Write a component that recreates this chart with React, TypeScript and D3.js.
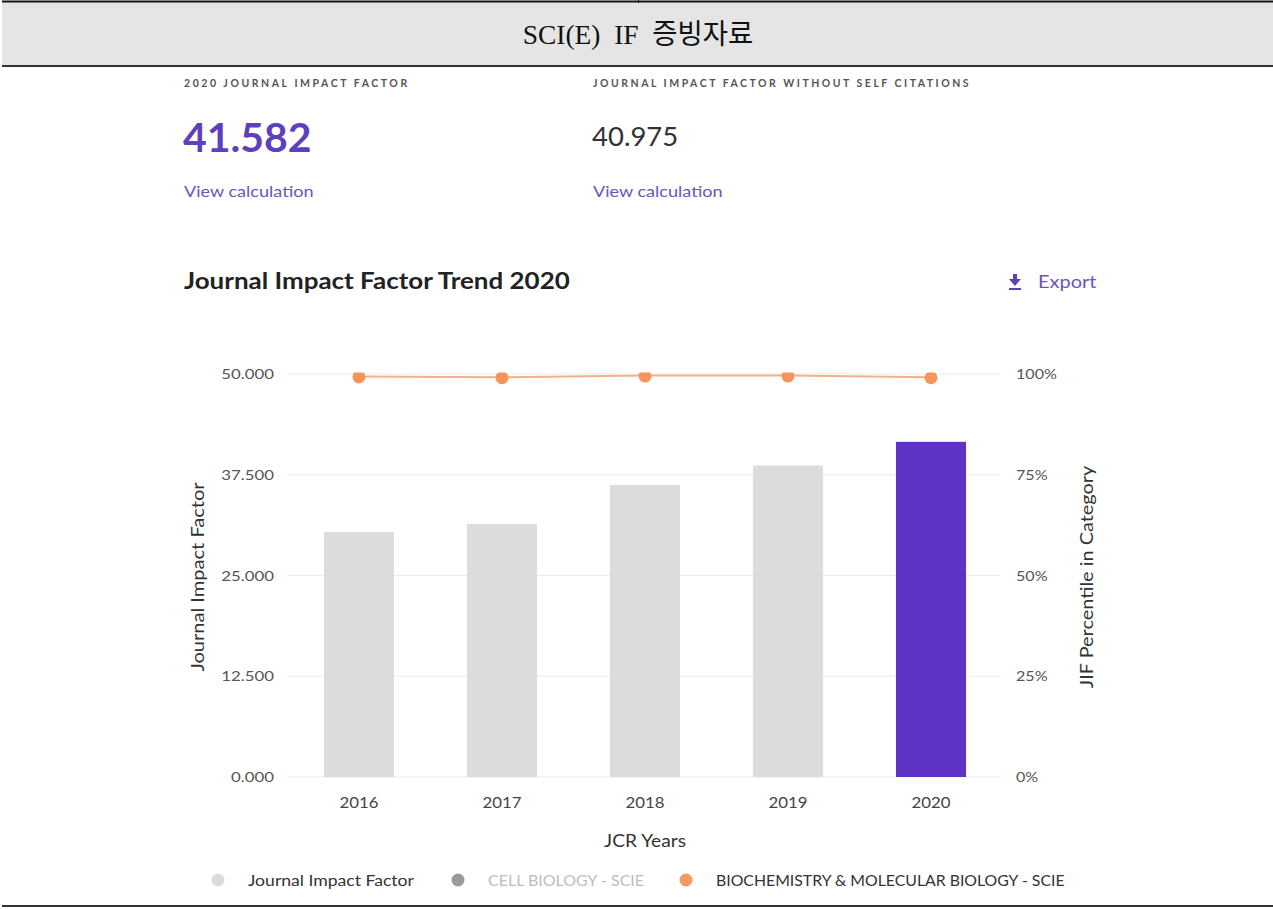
import React from "react";
import * as d3 from "d3";

const years = ["2016", "2017", "2018", "2019", "2020"];
const jifValues = [30.41, 31.398, 36.216, 38.637, 41.582];
const percentileValues = [99.4, 99.2, 99.6, 99.6, 99.2];
const leftTicks = [0, 12.5, 25, 37.5, 50];
const rightTicks = [0, 25, 50, 75, 100];
const legendItems = [
  { label: "Journal Impact Factor", dot: "#dcdcdc", text: "#333", sx: 1.1 },
  { label: "CELL BIOLOGY - SCIE", dot: "#9a9a9a", text: "#bdbdbd", sx: 1.0 },
  { label: "BIOCHEMISTRY & MOLECULAR BIOLOGY - SCIE", dot: "#f79a62", text: "#333", sx: 0.99 },
];

const W = 1273;
const H = 909;
const FONT = "Lato, 'Open Sans', sans-serif";

type STProps = {
  x: number;
  y: number;
  sx?: number;
  rotate?: number;
  anchor?: "start" | "middle" | "end";
  children: React.ReactNode;
  [k: string]: any;
};

function ST({ x, y, sx = 1, rotate = 0, anchor = "start", children, ...rest }: STProps) {
  return (
    <g transform={`translate(${x},${y}) rotate(${rotate}) scale(${sx},1)`}>
      <text x={0} y={0} textAnchor={anchor} {...rest}>
        {children}
      </text>
    </g>
  );
}

export default function App() {
  const plotLeft = 287.5;
  const plotRight = 1002.5;
  const plotTop = 374;
  const plotBottom = 777;

  const x = d3.scaleBand<string>().domain(years).range([plotLeft, plotRight]).paddingInner(0.51).paddingOuter(0.255);
  const yL = d3.scaleLinear().domain([0, 50]).range([plotBottom, plotTop]);
  const yR = d3.scaleLinear().domain([0, 100]).range([plotBottom, plotTop]);

  const cx = (i: number) => (x(years[i]) as number) + x.bandwidth() / 2;
  const line = d3
    .line<number>()
    .x((_, i) => cx(i))
    .y((d) => yR(d));

  const legendX = [218, 458, 686];

  return (
    <svg
      width={W}
      height={H}
      style={{ position: "absolute", left: 0, top: 0, background: "#fff" }}
      fontFamily={FONT}
    >
      <defs>
        <clipPath id="plotclip">
          <rect x={plotLeft - 20} y={plotTop - 1.5} width={plotRight - plotLeft + 40} height={plotBottom - plotTop + 10} />
        </clipPath>
      </defs>
      {/* header */}
      <rect x={2} y={2} width={W - 2} height={64} fill="#e5e5e5" />
      <line x1={2} x2={W} y1={1.5} y2={1.5} stroke="#111" strokeWidth={2} />
      <line x1={638.5} x2={638.5} y1={0} y2={3} stroke="#111" strokeWidth={1} />
      <line x1={2} x2={W} y1={66} y2={66} stroke="#333" strokeWidth={2} />
      <ST
        x={638}
        y={44}
        sx={0.98}
        anchor="middle"
        fontFamily="'Liberation Serif', 'Noto Sans CJK KR', serif"
        fontSize={28}
        fill="#111"
        style={{ whiteSpace: "pre" }}
      >
        {"SCI(E)  IF  증빙자료"}
      </ST>
      <line x1={2} x2={W} y1={906} y2={906} stroke="#333" strokeWidth={2} />

      {/* metrics */}
      <text x={184} y={87} fontSize={10.5} fontWeight={700} letterSpacing={2.55} fill="#555">
        2020 JOURNAL IMPACT FACTOR
      </text>
      <text x={593} y={87} fontSize={10.5} fontWeight={700} letterSpacing={2.5} fill="#555">
        JOURNAL IMPACT FACTOR WITHOUT SELF CITATIONS
      </text>
      <ST x={183} y={152} sx={1.0} fontSize={41} fontWeight={700} fill="#5e3fbe">
        41.582
      </ST>
      <ST x={592} y={146} sx={1.0} fontSize={27.5} fill="#333">
        40.975
      </ST>
      <ST x={184} y={197} sx={1.13} fontSize={16} fill="#6b55c0">
        View calculation
      </ST>
      <ST x={593} y={197} sx={1.13} fontSize={16} fill="#6b55c0">
        View calculation
      </ST>

      {/* chart title */}
      <ST x={184} y={289} sx={1.18} fontSize={22} fontWeight={700} fill="#222">
        Journal Impact Factor Trend 2020
      </ST>
      <g fill="#5e3fbe">
        <rect x={1013} y={274} width={4} height={6} />
        <path d="M1009,279 L1021,279 L1015,286 Z" />
        <rect x={1009} y={288} width={12} height={2} />
      </g>
      <ST x={1038} y={288} sx={1.11} fontSize={18} fill="#6b55c0">
        Export
      </ST>

      {/* gridlines */}
      {leftTicks.map((t) => (
        <line key={t} x1={plotLeft} x2={plotRight - 2} y1={yL(t)} y2={yL(t)} stroke="#ebebeb" strokeWidth={1} />
      ))}
      {/* left ticks */}
      {leftTicks.map((t) => (
        <ST key={t} x={274} y={yL(t) + 5} sx={1.2} anchor="end" fontSize={14} fill="#555">
          {d3.format(".3f")(t)}
        </ST>
      ))}
      {rightTicks.map((t) => (
        <ST key={t} x={1016} y={yR(t) + 5} sx={1.15} anchor="start" fontSize={14} fill="#555">
          {`${t}%`}
        </ST>
      ))}

      {/* bars */}
      {jifValues.map((v, i) => (
        <rect
          key={years[i]}
          x={x(years[i])}
          y={yL(v)}
          width={x.bandwidth()}
          height={plotBottom - yL(v)}
          fill={i === years.length - 1 ? "#5c33c4" : "#dcdcdc"}
        />
      ))}

      {/* percentile line */}
      <g clipPath="url(#plotclip)">
        <path d={line(percentileValues) || ""} fill="none" stroke="#f6b089" strokeWidth={2} />
        {percentileValues.map((v, i) => (
          <circle key={years[i]} cx={cx(i)} cy={yR(v) + 0.5} r={6.5} fill="#f7945c" />
        ))}
      </g>

      {/* x axis labels */}
      {years.map((yv, i) => (
        <ST key={yv} x={cx(i)} y={808} sx={1.12} anchor="middle" fontSize={15} fill="#444">
          {yv}
        </ST>
      ))}
      <ST x={645} y={847} sx={1.13} anchor="middle" fontSize={17} fill="#333">
        JCR Years
      </ST>
      <ST x={204} y={577} rotate={-90} sx={1.18} anchor="middle" fontSize={17} fill="#333">
        Journal Impact Factor
      </ST>
      <ST x={1093} y={577} rotate={-90} sx={1.17} anchor="middle" fontSize={17} fill="#333">
        JIF Percentile in Category
      </ST>

      {/* legend */}
      {legendItems.map((it, i) => (
        <g key={it.label}>
          <circle cx={legendX[i]} cy={880} r={6.5} fill={it.dot} />
          <ST x={legendX[i] + 30} y={886} sx={it.sx} fontSize={16} fill={it.text}>
            {it.label}
          </ST>
        </g>
      ))}
    </svg>
  );
}
